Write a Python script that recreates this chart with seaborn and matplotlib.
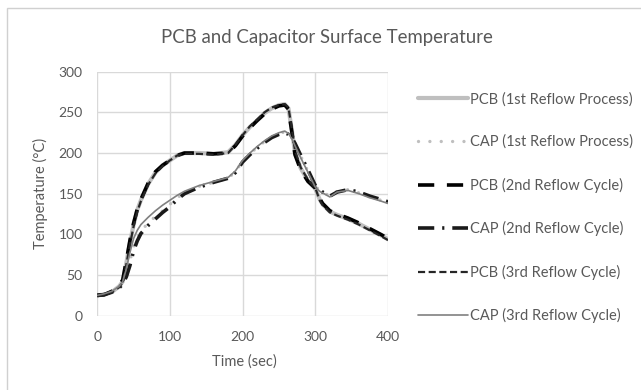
import numpy as np
import pandas as pd
import matplotlib
matplotlib.use("Agg")
import matplotlib.pyplot as plt
import seaborn as sns
from matplotlib.patches import Rectangle

# time axis (sec)
time_sec = [0, 10, 20, 30, 35, 40, 45, 50, 55, 60, 70, 80, 90, 100, 110,
            120, 140, 160, 180, 190, 200, 210, 220, 230, 240, 250, 258, 263,
            268, 272, 280, 290, 300, 306, 310, 320, 330, 345, 360, 375, 390, 400]

# surface temperatures (deg C)
pcb_1st = [25, 26, 29, 36, 42, 65, 90, 112, 130, 142, 162, 176, 185, 191, 197,
           200, 200, 199, 201, 210, 222, 232, 240, 249, 255, 259, 260, 255,
           226, 201, 181, 166, 156, 143, 137, 128, 124, 119, 113, 106, 99, 94]
cap_1st = [25, 26, 29, 35, 40, 52, 68, 85, 96, 104, 114, 122, 129, 137, 145,
           151, 159, 164, 169, 177, 190, 199, 207, 214, 220, 224, 226, 224,
           218, 211, 196, 177, 159, 154, 152, 147, 153, 155, 151, 146, 142, 139]
pcb_2nd = [25, 26, 30, 37, 44, 68, 93, 114, 131, 143, 163, 177, 185, 191, 197,
           200, 200, 199, 200, 209, 221, 231, 240, 248, 254, 258, 259, 254,
           224, 198, 179, 165, 157, 144, 138, 129, 125, 120, 114, 107, 100, 95]
cap_2nd = [25, 26, 29, 34, 39, 48, 62, 80, 92, 101, 111, 119, 127, 134, 143,
           150, 158, 164, 169, 176, 189, 198, 206, 213, 219, 223, 225, 223,
           218, 212, 197, 179, 160, 155, 152, 147, 152, 155, 152, 147, 143, 140]
pcb_3rd = [24, 25, 29, 35, 41, 63, 88, 110, 128, 141, 161, 175, 184, 191, 197,
           199, 199, 198, 200, 210, 222, 233, 241, 250, 256, 259, 260, 256,
           228, 203, 182, 167, 157, 142, 136, 127, 123, 118, 112, 105, 98, 93]
cap_3rd = [25, 27, 30, 36, 42, 58, 78, 95, 105, 112, 121, 129, 136, 142, 148,
           153, 160, 165, 170, 178, 191, 200, 208, 215, 221, 225, 227, 224,
           217, 209, 194, 176, 158, 153, 151, 146, 152, 154, 150, 145, 141, 138]

labels = ["PCB (1st Reflow Process)", "CAP (1st Reflow Process)",
          "PCB (2nd Reflow Cycle)", "CAP (2nd Reflow Cycle)",
          "PCB (3rd Reflow Cycle)", "CAP (3rd Reflow Cycle)"]
series = [pcb_1st, cap_1st, pcb_2nd, cap_2nd, pcb_3rd, cap_3rd]

styles = [
    dict(color="#bfbfbf", lw=3.0, linestyle="-"),
    dict(color="#bfbfbf", lw=2.4, linestyle=(0, (0.01, 3.4)), dash_capstyle="round"),
    dict(color="#000000", lw=2.6, linestyle=(0, (4.5, 3.5))),
    dict(color="#1a1a1a", lw=2.6, linestyle=(0, (4.5, 2.2, 0.6, 2.2))),
    dict(color="#262626", lw=1.6, linestyle=(0, (3.2, 1.6))),
    dict(color="#808080", lw=1.2, linestyle="-"),
]

sns.set_theme(style="whitegrid")
plt.rcParams["font.family"] = ["Lato", "DejaVu Sans"]
txt = "#595959"

fig = plt.figure(figsize=(6.41, 3.90), dpi=100)
ax = fig.add_axes([97.3 / 641, 1 - 315.7 / 390, 290.7 / 641, 244 / 390])

for lab, vals, st in zip(labels, series, styles):
    sns.lineplot(x=time_sec, y=vals, ax=ax, label=lab, **st)

ax.set_xlim(0, 400)
ax.set_ylim(0, 300)
ax.set_xticks([0, 100, 200, 300, 400])
ax.set_yticks([0, 50, 100, 150, 200, 250, 300])
ax.grid(True, color="#d9d9d9", lw=1.0)
for s in ax.spines.values():
    s.set_visible(False)
ax.tick_params(axis="both", length=0, labelsize=10, labelcolor=txt)
ax.tick_params(axis="y", pad=10.5)
ax.tick_params(axis="x", pad=11)

ax.set_xlabel("Time (sec)", fontsize=10.5, color=txt)
ax.xaxis.set_label_coords(0.505, -0.16)
ax.set_ylabel("Temperature (°C)", fontsize=10.5, color=txt)
ax.yaxis.set_label_coords(-0.17, 0.5)

fig.text(326.5 / 641, 1 - 38 / 390, "PCB and Capacitor Surface Temperature",
         ha="center", va="center", fontsize=13.4, color=txt)

fs = 10.5
leg = ax.legend(loc="upper left", bbox_to_anchor=(418 / 641, 1 - 92 / 390),
                bbox_transform=fig.transFigure, frameon=False, fontsize=fs,
                handlelength=3.4, handletextpad=0.15, labelspacing=1.95,
                borderpad=0, borderaxespad=0)
for t in leg.get_texts():
    t.set_color(txt)

# light outer chart border (left and top edges visible)
fig.patches.append(Rectangle((7 / 641, -0.05), 1.2, 1 - 8 / 390 + 0.05,
                             transform=fig.transFigure, fill=False,
                             edgecolor="#d0d0d0", lw=1.0))

fig.savefig("out.png", dpi=100)
